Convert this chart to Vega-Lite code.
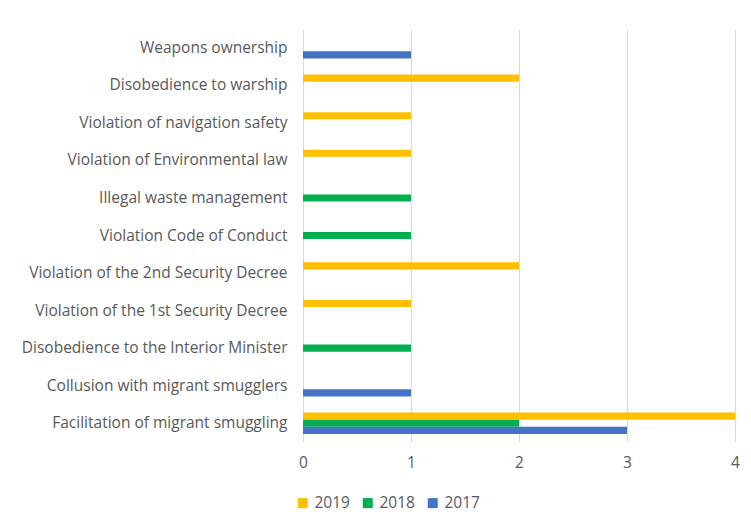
{
  "$schema": "https://vega.github.io/schema/vega-lite/v6.json",
  "autosize": {"type": "none"},
  "padding": {"left": 303, "top": 29, "right": 16, "bottom": 89},
  "width": 432,
  "height": 413,
  "background": "white",
  "data": {
    "values": [
      {"category": "Weapons ownership", "year": "2017", "value": 1},
      {"category": "Disobedience to warship", "year": "2019", "value": 2},
      {"category": "Violation of navigation safety", "year": "2019", "value": 1},
      {"category": "Violation of Environmental law", "year": "2019", "value": 1},
      {"category": "Illegal waste management", "year": "2018", "value": 1},
      {"category": "Violation Code of Conduct", "year": "2018", "value": 1},
      {"category": "Violation of the 2nd  Security Decree", "year": "2019", "value": 2},
      {"category": "Violation of the 1st Security Decree", "year": "2019", "value": 1},
      {"category": "Disobedience to the Interior Minister", "year": "2018", "value": 1},
      {"category": "Collusion with migrant smugglers", "year": "2017", "value": 1},
      {"category": "Facilitation of migrant smuggling", "year": "2019", "value": 4},
      {"category": "Facilitation of migrant smuggling", "year": "2018", "value": 2},
      {"category": "Facilitation of migrant smuggling", "year": "2017", "value": 3}
    ]
  },
  "mark": {"type": "bar"},
  "encoding": {
    "y": {
      "field": "category",
      "type": "nominal",
      "sort": null,
      "scale": {"paddingInner": 0.43, "paddingOuter": 0.215},
      "axis": {
        "title": null,
        "domain": false,
        "ticks": false,
        "labelPadding": 16,
        "labelFont": "Open Sans",
        "labelFontSize": 15.5,
        "labelColor": "#595959",
        "labelLimit": 400
      }
    },
    "yOffset": {
      "field": "year",
      "type": "nominal",
      "scale": {"domain": ["2019", "2018", "2017"], "paddingInner": 0, "paddingOuter": 0}
    },
    "x": {
      "field": "value",
      "type": "quantitative",
      "scale": {"domain": [0, 4], "nice": false},
      "axis": {
        "title": null,
        "domain": false,
        "ticks": false,
        "values": [0, 1, 2, 3, 4],
        "labelOverlap": false,
        "labelFlush": false,
        "grid": true,
        "gridColor": "#D9D9D9",
        "gridWidth": 1,
        "labelPadding": 13,
        "labelFont": "Open Sans",
        "labelFontSize": 15.5,
        "labelColor": "#595959"
      }
    },
    "color": {
      "field": "year",
      "type": "nominal",
      "scale": {"domain": ["2019", "2018", "2017"], "range": ["#FFC000", "#00B050", "#4472C4"]},
      "legend": {
        "title": null,
        "orient": "none",
        "direction": "horizontal",
        "legendX": -8,
        "legendY": 466,
        "symbolType": "square",
        "symbolSize": 100,
        "symbolStrokeWidth": 0,
        "labelOffset": 4,
        "labelFont": "Open Sans",
        "labelFontSize": 15.5,
        "labelColor": "#595959",
        "columnPadding": 10,
        "symbolOffset": 0
      }
    }
  },
  "config": {"view": {"stroke": null}}
}
